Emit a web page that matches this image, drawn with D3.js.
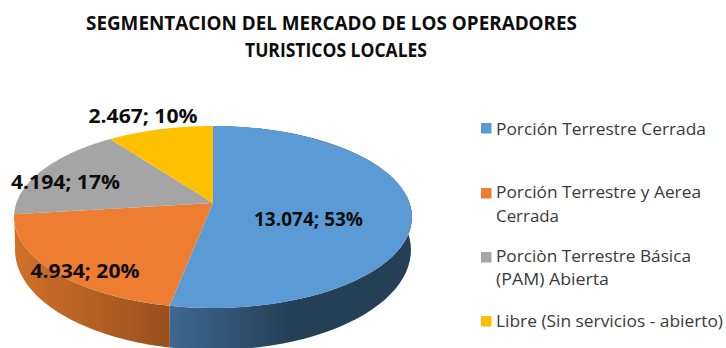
<!DOCTYPE html>
<html><head><meta charset="utf-8">
<script src="https://cdn.jsdelivr.net/npm/d3@7/dist/d3.min.js"></script>
<style>html,body{margin:0;background:#fff}svg{display:block}text{font-family:"Open Sans",sans-serif}</style>
</head><body><svg id="c" width="726" height="348"></svg>
<script>
const categories = ["Porción Terrestre Cerrada","Porción Terrestre y Aerea Cerrada","Porciòn Terrestre Básica (PAM) Abierta","Libre (Sin servicios - abierto)"];
const values = [13074,4934,4194,2467];
const percents = ["53%","20%","17%","10%"];
const valueLabels = ["13.074","4.934","4.194","2.467"];
const colors = ["#5b9bd5","#ed7d31","#a5a5a5","#ffc000"];
const titleLines = ["SEGMENTACION DEL MERCADO DE LOS OPERADORES","TURISTICOS LOCALES"];
const legendLines = [["Porción Terrestre Cerrada"],["Porción Terrestre y Aerea","Cerrada"],["Porciòn Terrestre Básica","(PAM) Abierta"],["Libre (Sin servicios - abierto)"]];

const svg = d3.select("#c");
const defs = svg.append("defs");
// perspective tilted disc: top face and lower rim
const k = 0.1538;
function project(a, top){
  const u = Math.sin(a), v = -Math.cos(a), w = 1 - k*v;
  return top ? [213 + 196.6*u/w, 203 + 88.85*v/w]
             : [213 + 195.6*u/w, 234.6 + 97.6*v/w];
}
const pie = d3.pie().sort(null).value(d=>d);
const arcs = pie(values);
const line = d3.line();
function samples(a0,a1){ return d3.range(0,61).map(i=>a0+(a1-a0)*i/60); }

// side gradients: only the two front slices show a wall
const sideGrad = [
  {id:"g0",x1:170,x2:290,stops:["#3f6891","#253f57"]},
  {id:"g1",x1:18,x2:170,stops:["#cf7029","#98501e"]}
];
sideGrad.forEach(g=>{
  const lg = defs.append("linearGradient").attr("id",g.id).attr("gradientUnits","userSpaceOnUse")
    .attr("x1",g.x1).attr("x2",g.x2).attr("y1",0).attr("y2",0);
  lg.append("stop").attr("offset",0).attr("stop-color",g.stops[0]);
  lg.append("stop").attr("offset",1).attr("stop-color",g.stops[1]);
});
svg.append("g").selectAll("path").data(arcs.filter(d=>d.index<sideGrad.length)).join("path")
  .attr("fill",d=>`url(#g${d.index})`)
  .attr("d",d=>{
    const s = samples(d.startAngle,d.endAngle);
    return line(s.map(a=>project(a,true)).concat(s.slice().reverse().map(a=>project(a,false))))+"Z";
  });
// top faces
svg.append("g").selectAll("path").data(arcs).join("path")
  .attr("fill",(d,i)=>colors[i])
  .attr("d",d=>line([[213,203]].concat(samples(d.startAngle,d.endAngle).map(a=>project(a,true))))+"Z");

function fit(sel, w){ sel.attr("textLength",w).attr("lengthAdjust","spacingAndGlyphs"); }
// title
const titlePos = [[331.5,30,491],[336,57,182]];
titleLines.forEach((t,i)=>{
  svg.append("text").text(t).attr("x",titlePos[i][0]).attr("y",titlePos[i][1]).attr("text-anchor","middle")
    .attr("font-size",20).attr("font-weight",700).attr("fill","#0d0d0d").call(fit,titlePos[i][2]);
});
// data labels
const labelPos = [[308.5,226],[85,278],[65.5,189],[143,123]];
arcs.forEach((d,i)=>{
  svg.append("text").text(`${valueLabels[i]}; ${percents[i]}`).attr("x",labelPos[i][0]).attr("y",labelPos[i][1])
    .attr("text-anchor","middle").attr("font-size",20).attr("font-weight",700).attr("fill","#0d0d0d").call(fit,109);
});
// legend
const legendSwatchY = [123,188,252,316];
const legendBase = [[135],[198,222],[262,285],[327]];
const legendW = [[210],[205,63],[195,113],[227]];
categories.forEach((c,i)=>{
  svg.append("rect").attr("x",481).attr("y",legendSwatchY[i]).attr("width",10.5).attr("height",10.5).attr("fill",colors[i]);
  legendLines[i].forEach((t,j)=>{
    svg.append("text").text(t).attr("x",496).attr("y",legendBase[i][j]).attr("font-size",16).attr("fill","#3a3a3a").call(fit,legendW[i][j]);
  });
});
</script></body></html>
